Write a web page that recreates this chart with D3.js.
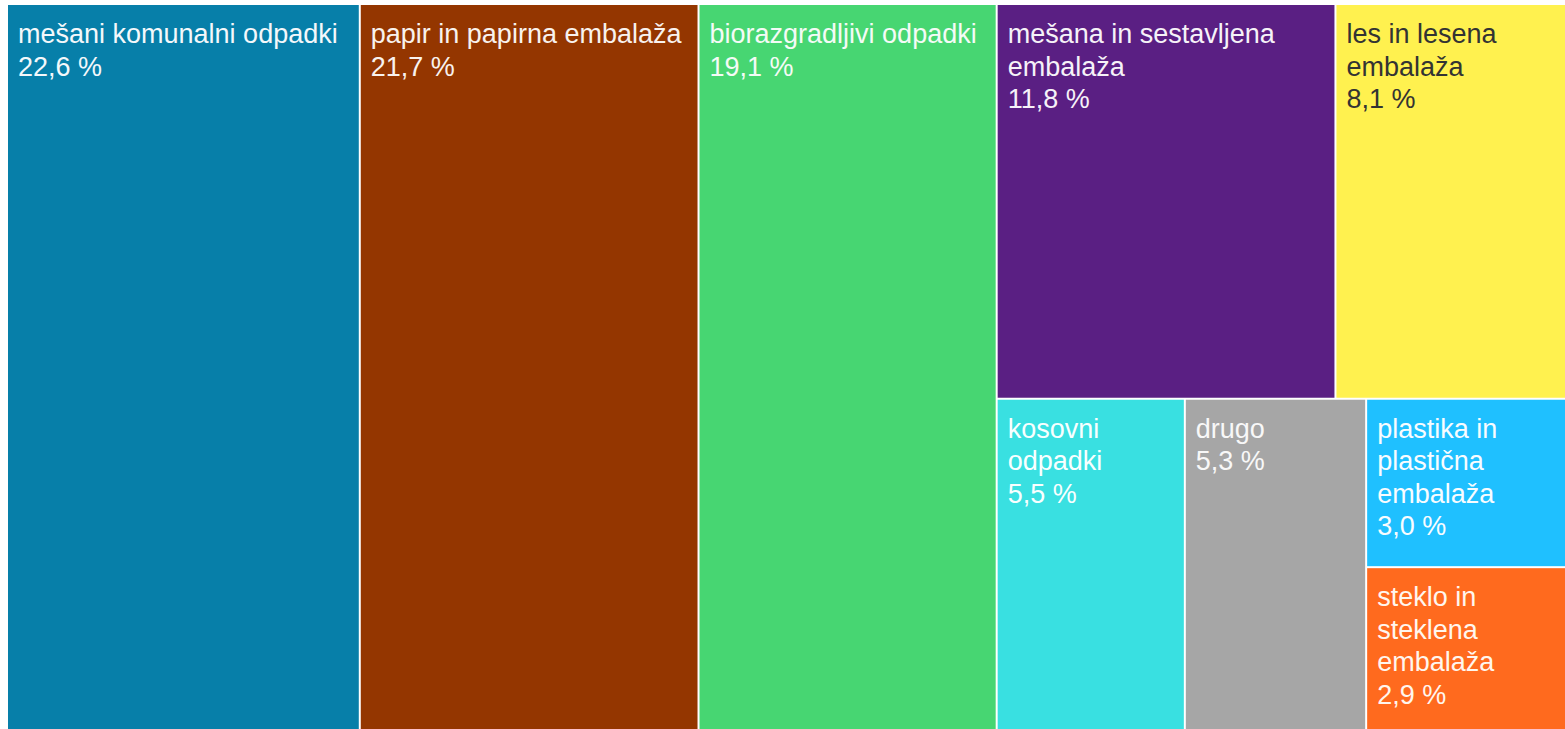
<!DOCTYPE html>
<html>
<head>
<meta charset="utf-8">
<script src="https://cdn.jsdelivr.net/npm/d3@7"></script>
<style>
  html, body { margin: 0; padding: 0; background: #ffffff; }
  svg { display: block; }
  text { font-family: "Liberation Sans", Arial, Helvetica, sans-serif; }
</style>
</head>
<body>
<svg id="chart" width="1565" height="729"></svg>
<script>
// Sestava odpadkov (delež v %)
const categories = [
  "mešani komunalni odpadki",
  "papir in papirna embalaža",
  "biorazgradljivi odpadki",
  "mešana in sestavljena embalaža",
  "les in lesena embalaža",
  "kosovni odpadki",
  "drugo",
  "plastika in plastična embalaža",
  "steklo in steklena embalaža"
];
const shares = [22.6, 21.7, 19.1, 11.8, 8.1, 5.5, 5.3, 3.0, 2.9];
const colors = [
  "#077fa9", "#943600", "#47d672", "#5a1f83", "#fff14f",
  "#39e0e1", "#a6a6a6", "#1fc0ff", "#ff6a1e"
];
const textColors = [
  "#f4f8fb", "#f8f2ee", "#f4fbf6", "#f6f2f8", "#333333",
  "#f8ffff", "#f8f8f8", "#f8fcff", "#fff6ee"
];
// Nesting of the categories (indices) into slice/dice groups
const nesting = [0, 1, 2, [[3, 4], [5, 6, [7, 8]]]];

const marginLeft = 8, marginTop = 5;
const areaW = 1559, areaH = 724;
const fontSize = 27, lineH = 32.5, padX = 10, firstBase = 38;

const svg = d3.select("#chart");

function build(node) {
  if (Array.isArray(node)) return { children: node.map(build) };
  return { idx: node, name: categories[node], value: shares[node] };
}

const root = d3.hierarchy(build(nesting))
  .sum(d => d.children ? 0 : d.value);

d3.treemap()
  .tile(d3.treemapSliceDice)
  .size([areaW, areaH])
  .paddingInner(2)
  .round(false)(root);

const locale = d3.formatLocale({ decimal: ",", thousands: ".", grouping: [3], currency: ["", " €"] });
const fmt = locale.format(".1f");

const g = svg.append("g").attr("transform", `translate(${marginLeft},${marginTop})`);

const cells = g.selectAll("g.cell")
  .data(root.leaves())
  .join("g")
  .attr("class", "cell")
  .attr("transform", d => `translate(${d.x0},${d.y0})`);

cells.append("rect")
  .attr("width", d => d.x1 - d.x0)
  .attr("height", d => d.y1 - d.y0)
  .attr("fill", d => colors[d.data.idx]);

// measuring helper for word wrapping
const meas = svg.append("text").attr("font-size", fontSize).attr("visibility", "hidden");
function textWidth(s) { meas.text(s); return meas.node().getComputedTextLength(); }

function wrap(label, maxW) {
  const words = label.split(" ");
  const lines = [];
  let cur = "";
  words.forEach(w => {
    const t = cur ? cur + " " + w : w;
    if (cur && textWidth(t) > maxW) { lines.push(cur); cur = w; }
    else cur = t;
  });
  if (cur) lines.push(cur);
  return lines;
}

cells.each(function(d) {
  const maxW = (d.x1 - d.x0) - padX - 3;
  const lines = wrap(d.data.name, maxW);
  lines.push(fmt(d.data.value) + " %");
  const t = d3.select(this).append("text")
    .attr("font-size", fontSize)
    .attr("fill", textColors[d.data.idx]);
  t.selectAll("tspan")
    .data(lines)
    .join("tspan")
    .attr("x", padX)
    .attr("y", (l, i) => firstBase + i * lineH)
    .text(l => l);
});
meas.remove();
</script>
</body>
</html>
